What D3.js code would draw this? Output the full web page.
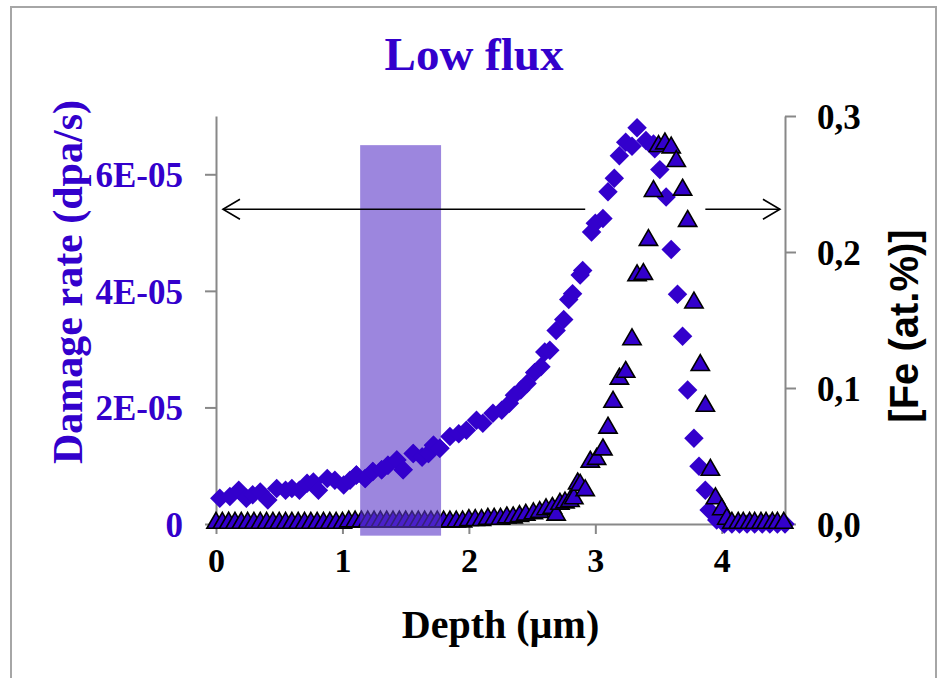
<!DOCTYPE html>
<html>
<head>
<meta charset="utf-8">
<script src="https://cdn.jsdelivr.net/npm/d3@7"></script>
<style>
  html, body { margin: 0; padding: 0; background: #fff; }
  svg { display: block; }
</style>
</head>
<body>
<div id="vis"></div>
<script>
const W = 944, H = 678;
const purple = "#3300cc";
const serif = "'Liberation Serif', 'Times New Roman', serif";
const sans = "'Liberation Sans', Arial, sans-serif";

// Damage rate (units of 1E-05 dpa/s) vs depth (µm) -- diamonds, left axis
const damageRate = [
  [0.03, 0.44], [0.11, 0.47], [0.18, 0.58], [0.24, 0.44], [0.29, 0.50], [0.35, 0.55],
  [0.41, 0.41], [0.48, 0.61], [0.55, 0.58], [0.60, 0.61], [0.66, 0.58], [0.72, 0.70],
  [0.77, 0.72], [0.81, 0.58], [0.88, 0.78], [0.94, 0.75], [1.01, 0.67], [1.06, 0.75],
  [1.11, 0.84], [1.18, 0.78], [1.24, 0.90], [1.31, 0.93], [1.36, 1.01], [1.43, 1.10],
  [1.48, 0.93], [1.56, 1.21], [1.63, 1.15], [1.68, 1.21], [1.72, 1.35], [1.77, 1.30],
  [1.85, 1.50], [1.92, 1.55], [1.98, 1.61], [2.06, 1.78], [2.11, 1.73], [2.19, 1.90],
  [2.26, 1.95], [2.32, 2.07], [2.36, 2.21], [2.41, 2.30], [2.46, 2.41], [2.52, 2.60],
  [2.57, 2.70], [2.60, 2.95], [2.64, 2.98], [2.69, 3.32], [2.75, 3.51], [2.79, 3.85],
  [2.82, 3.95], [2.88, 4.27], [2.90, 4.35], [2.97, 5.01], [3.00, 5.16], [3.06, 5.24],
  [3.10, 5.70], [3.15, 5.93], [3.19, 6.32], [3.24, 6.55], [3.29, 6.48], [3.33, 6.80],
  [3.40, 6.58], [3.46, 6.52], [3.47, 6.44], [3.51, 6.08], [3.56, 5.61], [3.60, 4.71],
  [3.65, 3.94], [3.69, 3.22], [3.73, 2.30], [3.78, 1.47], [3.82, 0.99], [3.87, 0.58],
  [3.90, 0.24], [3.96, 0.07], [4.02, 0], [4.08, 0], [4.14, 0], [4.20, 0], [4.26, 0],
  [4.32, 0], [4.38, 0], [4.44, 0], [4.50, 0]
];

// Fe concentration (at.%) vs depth (µm) -- triangles, right axis
const feConc = [
  [0.00, 0], [0.05, 0], [0.10, 0], [0.15, 0], [0.20, 0], [0.25, 0], [0.30, 0],
  [0.35, 0], [0.40, 0], [0.45, 0], [0.50, 0], [0.55, 0], [0.60, 0], [0.65, 0],
  [0.70, 0], [0.75, 0], [0.80, 0], [0.85, 0], [0.90, 0], [0.95, 0], [1.00, 0],
  [1.05, 0.001], [1.10, 0.001], [1.15, 0.001], [1.20, 0.001], [1.25, 0.001],
  [1.30, 0.001], [1.35, 0.001], [1.40, 0.001], [1.45, 0.001], [1.50, 0.001],
  [1.55, 0.001], [1.60, 0.001], [1.65, 0.001], [1.70, 0.001], [1.75, 0.001],
  [1.80, 0.001], [1.85, 0.001], [1.90, 0.001], [1.95, 0.001], [2.00, 0.002],
  [2.05, 0.002], [2.10, 0.002], [2.15, 0.003], [2.20, 0.003], [2.25, 0.003],
  [2.30, 0.004], [2.35, 0.004], [2.40, 0.005], [2.45, 0.006], [2.51, 0.007],
  [2.56, 0.008], [2.61, 0.010], [2.66, 0.011], [2.69, 0.006], [2.72, 0.014],
  [2.76, 0.015], [2.80, 0.016], [2.83, 0.018], [2.86, 0.029], [2.88, 0.028],
  [2.92, 0.024], [2.96, 0.045], [3.01, 0.047], [3.06, 0.054], [3.10, 0.070],
  [3.14, 0.089], [3.19, 0.106], [3.24, 0.111], [3.29, 0.135], [3.33, 0.182],
  [3.38, 0.183], [3.42, 0.208], [3.46, 0.244], [3.50, 0.277], [3.55, 0.279],
  [3.60, 0.276], [3.64, 0.266], [3.69, 0.245], [3.73, 0.222], [3.78, 0.162],
  [3.83, 0.116], [3.87, 0.086], [3.91, 0.039], [3.95, 0.018], [4.00, 0.010],
  [4.04, 0.003], [4.08, 0], [4.13, 0], [4.17, 0], [4.22, 0], [4.26, 0],
  [4.31, 0], [4.35, 0], [4.40, 0], [4.44, 0], [4.49, 0]
];

const xTicks = [0, 1, 2, 3, 4];
const leftTicks = [0, 2, 4, 6];        // x 1E-05
const rightTicks = [0, 0.1, 0.2, 0.3];

// shaded depth band and the double arrow (data units)
const band = { x0: 1.14, x1: 1.78, y0: -0.2, y1: 6.5 };
const arrow = { y: 5.4, x0: 0.055, x1: 2.92, x2: 3.87, x3: 4.46 };

// Scales
const x = d3.scaleLinear().domain([0, 4.5]).range([216, 785]);
const yL = d3.scaleLinear().domain([0, 7]).range([524, 116]);
const yR = d3.scaleLinear().domain([0, 0.3]).range([524, 116]);

const svg = d3.select("#vis").append("svg")
  .attr("width", W)
  .attr("height", H);

// outer frame
svg.append("rect")
  .attr("x", 11).attr("y", 7)
  .attr("width", 925).attr("height", 700)
  .attr("fill", "none")
  .attr("stroke", "#a6a6a6")
  .attr("stroke-width", 2);

// Title
svg.append("text")
  .attr("x", 474).attr("y", 70)
  .attr("text-anchor", "middle")
  .style("font-family", serif)
  .style("font-weight", "bold")
  .style("font-size", "47px")
  .attr("fill", purple)
  .text("Low flux");

function styleAxis(g, color, size) {
  g.select(".domain").attr("stroke", "#888").attr("stroke-width", 2);
  g.selectAll(".tick line").attr("stroke", "#888").attr("stroke-width", 2);
  g.selectAll(".tick text")
    .attr("fill", color)
    .style("font-family", serif)
    .style("font-weight", "bold")
    .style("font-size", size);
}

// Axes
const gx = svg.append("g")
  .attr("transform", `translate(0,${yL(0)})`)
  .call(d3.axisBottom(x).tickValues(xTicks).tickSize(10).tickSizeOuter(0).tickPadding(14).tickFormat(d3.format("d")));
styleAxis(gx, "#000", "34px");

const gl = svg.append("g")
  .attr("transform", `translate(${x(0)},0)`)
  .call(d3.axisLeft(yL).tickValues(leftTicks).tickSize(11).tickSizeOuter(0).tickPadding(22)
    .tickFormat(d => d === 0 ? "0" : d + "E-05"));
styleAxis(gl, purple, "35px");
gl.selectAll(".tick text").attr("dy", "0.35em");

const gr = svg.append("g")
  .attr("transform", `translate(${x(4.5)},0)`)
  .call(d3.axisRight(yR).tickValues(rightTicks).tickSize(11).tickSizeOuter(0).tickPadding(21)
    .tickFormat(d => d3.format(".1f")(d).replace(".", ",")));
styleAxis(gr, "#000", "35px");
gr.selectAll(".tick text").attr("dy", "0.35em");

// Axis titles
svg.append("text")
  .attr("x", x(2.25)).attr("y", 638)
  .attr("text-anchor", "middle")
  .style("font-family", serif)
  .style("font-weight", "bold")
  .style("font-size", "40px")
  .attr("fill", "#000")
  .text("Depth (µm)");

svg.append("text")
  .attr("transform", "translate(68,282) rotate(-90)")
  .attr("text-anchor", "middle")
  .attr("dominant-baseline", "central")
  .style("font-family", serif)
  .style("font-weight", "bold")
  .style("font-size", "42px")
  .attr("fill", purple)
  .text("Damage rate (dpa/s)");

svg.append("text")
  .attr("transform", "translate(904,326) rotate(-90)")
  .attr("text-anchor", "middle")
  .attr("dominant-baseline", "central")
  .style("font-family", sans)
  .style("font-weight", "bold")
  .style("font-size", "40px")
  .attr("fill", "#000")
  .text("[Fe (at.%)]");

// Markers
const diamond = d3.symbol().type(d3.symbolSquare).size(190);
const triangle = d3.symbol().type(d3.symbolTriangle).size(145);

function drawDiamonds(layer, data) {
  layer.selectAll("path")
    .data(data)
    .join("path")
    .attr("d", diamond)
    .attr("transform", d => `translate(${x(d[0])},${yL(d[1])}) rotate(45)`)
    .attr("fill", purple);
}

drawDiamonds(svg.append("g"), damageRate);

svg.append("g").selectAll("path")
  .data(feConc)
  .join("path")
  .attr("d", triangle)
  .attr("transform", d => `translate(${x(d[0])},${yR(d[1]) - 1})`)
  .attr("fill", purple)
  .attr("stroke", "#000")
  .attr("stroke-width", 1.6)
  .attr("stroke-linejoin", "miter");

// shaded band
svg.append("rect")
  .attr("x", x(band.x0))
  .attr("y", yL(band.y1))
  .attr("width", x(band.x1) - x(band.x0))
  .attr("height", yL(band.y0) - yL(band.y1))
  .attr("fill", "#5a36c8")
  .attr("opacity", 0.6);

// diamonds sitting inside the band stay on top of it
drawDiamonds(svg.append("g"), damageRate.filter(d => d[0] >= band.x0 - 0.05 && d[0] <= band.x1 + 0.05));

// double arrow with a gap in the middle
const ay = yL(arrow.y);
const ag = svg.append("g").attr("stroke", "#000").attr("stroke-width", 1.6).attr("fill", "none");
ag.append("line").attr("x1", x(arrow.x0)).attr("x2", x(arrow.x1)).attr("y1", ay).attr("y2", ay);
ag.append("line").attr("x1", x(arrow.x2)).attr("x2", x(arrow.x3)).attr("y1", ay).attr("y2", ay);
ag.append("path").attr("d", `M${x(arrow.x0) + 17},${ay - 10}L${x(arrow.x0)},${ay}L${x(arrow.x0) + 17},${ay + 10}`);
ag.append("path").attr("d", `M${x(arrow.x3) - 17},${ay - 10}L${x(arrow.x3)},${ay}L${x(arrow.x3) - 17},${ay + 10}`);
</script>
</body>
</html>
